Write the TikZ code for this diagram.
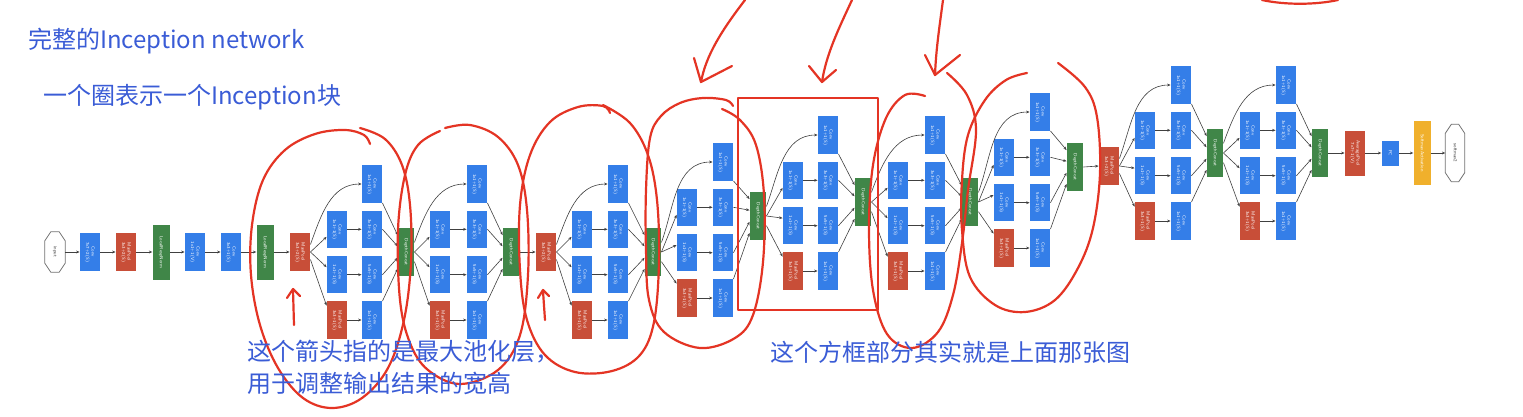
\documentclass[tikz,border=0pt]{standalone}
\usepackage{fontspec}
\usepackage{graphicx}
\newfontfamily\cjk{Noto Sans CJK SC}
\usetikzlibrary{calc,arrows.meta}
\definecolor{gblue}{RGB}{52,126,232}
\definecolor{gred}{RGB}{200,78,56}
\definecolor{ggreen}{RGB}{64,134,72}
\definecolor{gyellow}{RGB}{240,176,44}
\definecolor{anno}{RGB}{228,52,36}
\definecolor{txtblue}{RGB}{58,92,214}
\newcommand\rot[1]{\rotatebox{-90}{\begin{tabular}{@{}c@{}}#1\end{tabular}}}
\tikzset{
  box/.style={rectangle, inner sep=0pt, minimum width=20.5pt, minimum height=37.5pt, text=white,
    font=\sffamily\fontsize{4.6}{5.4}\selectfont, align=center},
  conv/.style={box, fill=gblue},
  pool/.style={box, fill=gred},
  cat/.style={box, fill=ggreen, minimum width=16.5pt, minimum height=48pt},
  lrn/.style={box, fill=ggreen, minimum width=17pt, minimum height=55pt},
  term/.style={rectangle, inner sep=0pt, minimum width=20pt, minimum height=40pt,
    font=\sffamily\fontsize{4.6}{5.4}\selectfont, text=black!80},
  octo/.style={draw=black!55, line width=0.8pt},
  ar/.style={-{Stealth[length=3.4pt,width=2.8pt]}, line width=0.6pt, draw=black!75},
  anno/.style={draw=anno, line width=2.2pt, line cap=round, line join=round},
  txt/.style={inner sep=0pt, text=txtblue, font=\cjk\fontsize{24}{32}\selectfont, align=left}
}
\newcommand\octa[1]{%
  \draw[octo] ($(#1.north west)+(6,0)$) -- ($(#1.north east)+(-6,0)$) -- ($(#1.north east)+(0,9)$)
   -- ($(#1.south east)+(0,-9)$) -- ($(#1.south east)+(-6,0)$) -- ($(#1.south west)+(6,0)$)
   -- ($(#1.south west)+(0,-9)$) -- ($(#1.north west)+(0,9)$) -- cycle;}
% #1 name, #2 prev, #3 x col1, #4 x col2, #5 x concat, #6 y row1, #7 y concat
\newcommand\incep[7]{%
  \node[conv] (#1a2) at (#3,#6+45.3) {\rot{Conv\\1x1+1(S)}};
  \node[conv] (#1a3) at (#3,#6+90.7) {\rot{Conv\\1x1+1(S)}};
  \node[pool] (#1a4) at (#3,#6+136) {\rot{MaxPool\\3x3+1(S)}};
  \node[conv] (#1b1) at (#4,#6) {\rot{Conv\\1x1+1(S)}};
  \node[conv] (#1b2) at (#4,#6+45.3) {\rot{Conv\\3x3+1(S)}};
  \node[conv] (#1b3) at (#4,#6+90.7) {\rot{Conv\\5x5+1(S)}};
  \node[conv] (#1b4) at (#4,#6+136) {\rot{Conv\\1x1+1(S)}};
  \node[cat] (#1c) at (#5,#7) {\rot{DepthConcat}};
  \draw[ar] ($(#2.north east)!0.6!(#2.east)$) to[out=70,in=180] (#1b1.west);
  \draw[ar] (#2.east) -- ($(#1a2.north west)!0.7!(#1a2.south west)$);
  \draw[ar] (#2.east) -- ($(#1a3.north west)!0.3!(#1a3.south west)$);
  \draw[ar] ($(#2.east)!0.4!(#2.south east)$) -- ($(#1a4.north west)!0.12!(#1a4.south west)$);
  \draw[ar] (#1a2.east) -- (#1b2.west);
  \draw[ar] (#1a3.east) -- (#1b3.west);
  \draw[ar] (#1a4.east) -- (#1b4.west);
  \draw[ar] (#1b1.south east) -- ($(#1c.north west)!0.15!(#1c.south west)$);
  \draw[ar] (#1b2.east) -- ($(#1c.north west)!0.38!(#1c.south west)$);
  \draw[ar] (#1b3.east) -- ($(#1c.north west)!0.62!(#1c.south west)$);
  \draw[ar] (#1b4.north east) -- ($(#1c.north west)!0.85!(#1c.south west)$);
}
\begin{document}
\begin{tikzpicture}[x=1pt,y=-1pt]
\fill[white] (0,0) rectangle (1523,416);
\useasboundingbox (0,0) rectangle (1523,416);

% stem
\node[term] (in) at (55,252) {\rot{input}};
\node[conv] (c1) at (90,252) {\rot{Conv\\7x7+2(S)}};
\node[pool] (mp1) at (126,252) {\rot{MaxPool\\3x3+2(S)}};
\node[lrn] (lrn1) at (161,252) {\rot{LocalRespNorm}};
\node[conv] (c2) at (195,252) {\rot{Conv\\1x1+1(V)}};
\node[conv] (c3) at (231,252) {\rot{Conv\\3x3+1(S)}};
\node[lrn] (lrn2) at (265,252) {\rot{LocalRespNorm}};
\node[pool] (mp2) at (300,252) {\rot{MaxPool\\3x3+2(S)}};
\octa{in}
\draw[ar] (in.east) -- (c1.west);
\draw[ar] (c1.east) -- (mp1.west);
\draw[ar] (mp1.east) -- (lrn1.west);
\draw[ar] (lrn1.east) -- (c2.west);
\draw[ar] (c2.east) -- (c3.west);
\draw[ar] (c3.east) -- (lrn2.west);
\draw[ar] (lrn2.east) -- (mp2.west);

% inception blocks
\incep{iA}{mp2}{337}{372}{406}{184}{252}
\incep{iB}{iAc}{440}{477}{511}{184}{252}
\node[pool] (mp3) at (546,252) {\rot{MaxPool\\3x3+2(S)}};
\draw[ar] (iBc.east) -- (mp3.west);
\incep{iC}{mp3}{582}{618}{653}{184}{252}
\incep{iD}{iCc}{687}{723}{758}{162}{216}
\incep{iE}{iDc}{793}{828}{863}{135}{202}
\incep{iF}{iEc}{898}{935}{970}{135}{202}
\incep{iG}{iFc}{1004}{1040}{1075}{112}{167}
\node[pool] (mp4) at (1109,166) {\rot{MaxPool\\3x3+2(S)}};
\draw[ar] (iGc.east) -- (mp4.west);
\incep{iH}{mp4}{1145}{1181}{1215}{85}{153}
\incep{iI}{iHc}{1250}{1286}{1320}{85}{153}

% head
\node[pool, minimum height=45pt] (avg) at (1355,153) {\rot{AveragePool\\7x7+1(V)}};
\node[conv, minimum width=17pt, minimum height=25pt] (fc) at (1390,153) {\rot{FC}};
\node[box, fill=gyellow, minimum width=17pt, minimum height=64pt] (sm) at (1422,153) {\rot{SoftmaxActivation}};
\node[term, minimum width=19pt, minimum height=57pt] (out) at (1455,153) {\rot{softmax2}};
\octa{out}
\draw[ar] (iIc.east) -- (avg.west);
\draw[ar] (avg.east) -- (fc.west);
\draw[ar] (fc.east) -- (sm.west);
\draw[ar] (sm.east) -- (out.west);

% red annotations
\draw[anno] plot[smooth, tension=0.6] coordinates {(370,144) (364,135) (345,130) (315,134) (285,150) (263,180) (252,225) (251,275) (260,325) (278,368) (303,398) (332,408) (362,398) (388,368) (404,320) (411,262) (410,205) (402,165) (385,139) (360,128)};
\draw[anno] plot[smooth, tension=0.6] coordinates {(440,131) (418,145) (405,175) (398,230) (400,300) (410,343) (428,370) (460,384) (498,370) (520,335) (528,275) (527,210) (518,165) (498,137) (470,125) (445,128)};
\draw[anno] plot[smooth, tension=0.6] coordinates {(610,113) (603,106) (578,107) (550,122) (530,155) (520,205) (520,270) (527,320) (545,355) (575,372) (612,371) (640,355) (654,322) (659,262) (657,200) (648,155) (630,123) (603,105)};
\draw[anno] plot[smooth, tension=0.6] coordinates {(733,106) (726,100) (703,98) (680,103) (661,116) (650,138) (646,190) (646,250) (649,300) (664,332) (700,348) (735,338) (753,315) (763,262) (764,195) (756,145) (740,120) (722,109)};
\draw[anno] plot[smooth, tension=0.6] coordinates {(925,96) (905,95) (886,118) (873,165) (869,228) (873,290) (887,334) (912,348) (938,332) (953,295) (962,243) (968,190) (976,130) (967,95) (947,73)};
\draw[anno] plot[smooth, tension=0.6] coordinates {(1027,73) (1006,80) (985,100) (968,135) (962,180) (962,230) (970,277) (995,305) (1025,312) (1055,300) (1078,268) (1093,228) (1100,173) (1097,117) (1085,87) (1058,63)};
\draw[anno, line width=2.5pt] (738,98) rectangle (878,310);
% arrows from the top
\draw[anno] (745,0) .. controls (722,30) and (706,55) .. (701,82);
\draw[anno] (694,58) -- (701,82) -- (732,66);
\draw[anno] (852,0) .. controls (838,30) and (826,55) .. (822,82);
\draw[anno] (809,66) -- (822,82) -- (836,70);
\draw[anno] (943,0) .. controls (939,30) and (936,50) .. (935,75);
\draw[anno] (925,55) -- (935,75) -- (960,55);
\draw[anno] (1262,0) .. controls (1285,5) and (1315,5) .. (1338,0);
% small up arrows
\draw[anno] (294,325) -- (293,290);
\draw[anno] (287,298) -- (293,289) -- (300,296);
\draw[anno] (545,320) -- (543,291);
\draw[anno] (538,298) -- (543,290) -- (549,296);

% texts
\node[txt, anchor=west] (t1) at (28,41) {完整的Inception network};
\node[txt, anchor=west] (t2) at (43,97) {一个圈表示一个Inception块};
\node[txt, anchor=north west] (t3) at (247,340) {这个箭头指的是最大池化层，\\用于调整输出结果的宽高};
\node[txt, anchor=west] (t4) at (770,352) {这个方框部分其实就是上面那张图};
\end{tikzpicture}
\end{document}
